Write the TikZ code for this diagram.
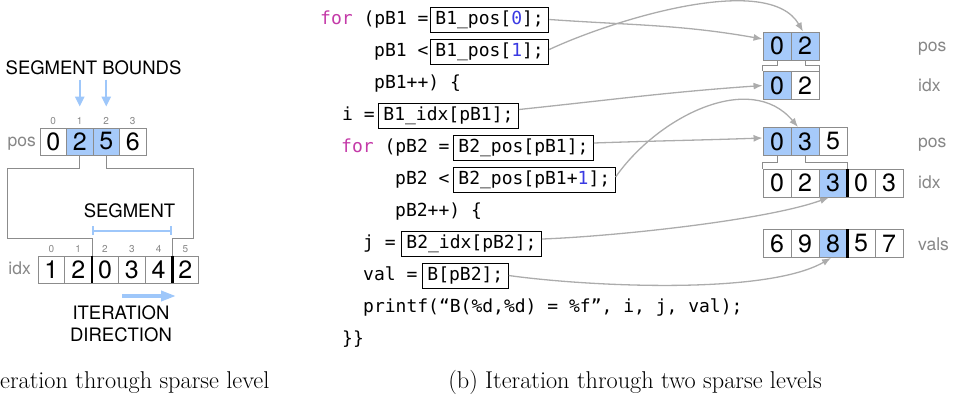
\documentclass[tikz,border=0pt]{standalone}
\usepackage{fontspec}
\usepackage{tikz}
\setsansfont{TeX Gyre Heros}
\newfontfamily\codefont{DejaVu Sans Mono}
\usetikzlibrary{arrows.meta,calc}
\definecolor{cell_blue}{RGB}{166, 202, 250}
\definecolor{cell_gray}{RGB}{140, 140, 140}
\definecolor{ptr_gray}{RGB}{172, 172, 172}
\definecolor{lbl_gray}{RGB}{135, 135, 135}
\definecolor{seg_blue}{RGB}{158, 199, 250}
\definecolor{kw_mag}{RGB}{196, 58, 168}
\definecolor{lit_blue}{RGB}{58, 58, 226}
\tikzstyle{lc}=[rectangle,draw=cell_gray,line width=0.9pt,inner sep=0pt,
  minimum width=26.6pt,minimum height=27pt,font=\sffamily\fontsize{25}{25}\selectfont]
\tikzstyle{lb}=[lc,fill=cell_blue]
\tikzstyle{rc}=[lc,minimum width=28pt,minimum height=28pt]
\tikzstyle{rb}=[rc,fill=cell_blue]
\tikzstyle{num}=[inner sep=0pt,text=lbl_gray,font=\sffamily\fontsize{10}{10}\selectfont]
\tikzstyle{lbl}=[inner sep=0pt,text=lbl_gray,font=\sffamily\fontsize{17.5}{17.5}\selectfont]
\tikzstyle{txt}=[inner sep=0pt,align=center,font=\sffamily\fontsize{18.5}{22}\selectfont]
\tikzstyle{code}=[anchor=west,inner sep=0pt,text height=13pt,text depth=4pt,
  font=\codefont\fontsize{18}{22}\selectfont]
\tikzstyle{codebox}=[code,draw=black,line width=0.9pt,inner xsep=5pt,inner ysep=4pt]
\tikzstyle{capt}=[inner sep=0pt,anchor=base,font=\fontsize{24.3}{24.3}\selectfont]
\tikzstyle{ptr}=[draw=ptr_gray,line width=1.3pt,-{Latex[length=9pt,width=7pt]}]
\tikzstyle{frm}=[draw=cell_gray,line width=0.9pt]
\tikzstyle{sepline}=[draw=black,line width=2.6pt]
\tikzstyle{blu}=[draw=seg_blue,line width=2.4pt,-{Triangle[length=10pt,width=9pt]}]
\tikzstyle{itdir}=[draw=seg_blue,line width=3.6pt,-{Triangle[length=15pt,width=10pt]}]
\tikzstyle{segbar}=[draw=seg_blue,line width=2pt,{Bar[width=9pt]}-{Bar[width=9pt]}]
\tikzstyle{none}=[]
\begin{document}
\begin{tikzpicture}[x=1pt, y=-1pt]
		\useasboundingbox (0, 0) rectangle (957, 399);
		% (a) one sparse level
		\node [style=lc] (0) at (53.25, 141.5) {0};
		\node [style=lb] (1) at (79.75, 141.5) {2};
		\node [style=lb] (2) at (106.25, 141.5) {5};
		\node [style=lc] (3) at (132.75, 141.5) {6};
		\node [style=lc] (4) at (51.4, 269.5) {1};
		\node [style=lc] (5) at (78.2, 269.5) {2};
		\node [style=lc] (6) at (105, 269.5) {0};
		\node [style=lc] (7) at (131.8, 269.5) {3};
		\node [style=lc] (8) at (158.6, 269.5) {4};
		\node [style=lc] (9) at (185.4, 269.5) {2};
		\node [style=num] (10) at (53.25, 121) {0};
		\node [style=num] (11) at (79.75, 121) {1};
		\node [style=num] (12) at (106.25, 121) {2};
		\node [style=num] (13) at (132.75, 121) {3};
		\node [style=num] (14) at (51.4, 249) {0};
		\node [style=num] (15) at (78.2, 249) {1};
		\node [style=num] (16) at (105, 249) {2};
		\node [style=num] (17) at (131.8, 249) {3};
		\node [style=num] (18) at (158.6, 249) {4};
		\node [style=num] (19) at (185.4, 249) {5};
		\node [style=lbl, anchor=base east] (20) at (36, 146.5) {pos};
		\node [style=lbl, anchor=base east] (21) at (31, 274.5) {idx};
		\node [style=txt] (22) at (93.5, 68) {SEGMENT BOUNDS};
		\node [style=txt] (23) at (129.5, 211) {SEGMENT};
		\node [style=txt] (24) at (121, 324) {ITERATION\\DIRECTION};
		\node [style=capt, anchor=base west] (25) at (0, 388) {eration through sparse level};
		\coordinate (26) at (7, 168);
		\coordinate (27) at (7, 238);
		\coordinate (28) at (193, 168);
		\coordinate (29) at (193, 238);
		\coordinate (30) at (122, 296);
		\coordinate (31) at (176, 296);
		% (b) two sparse levels: code
		\node [style=code] (32) at (320, 19.5) {\textcolor{kw_mag}{for} (pB1 =};
		\node [style=code] (33) at (374, 51.5) {pB1 <};
		\node [style=code] (34) at (374, 83.5) {pB1++) \{};
		\node [style=code] (35) at (342, 115.5) {i =};
		\node [style=code] (36) at (341, 147.5) {\textcolor{kw_mag}{for} (pB2 =};
		\node [style=code] (37) at (395, 179.5) {pB2 <};
		\node [style=code] (38) at (395, 211.5) {pB2++) \{};
		\node [style=code] (39) at (363, 243.5) {j =};
		\node [style=code] (40) at (363, 275.5) {val =};
		\node [style=code] (41) at (363, 307.5) {printf(“B(\%d,\%d) = \%f”, i, j, val);};
		\node [style=code] (42) at (342, 339.5) {\}\}};
		\node [style=codebox] (43) at (430, 19.5) {B1\_pos[\textcolor{lit_blue}{0}];};
		\node [style=codebox] (44) at (430, 51.5) {B1\_pos[\textcolor{lit_blue}{1}];};
		\node [style=codebox] (45) at (378, 115.5) {B1\_idx[pB1];};
		\node [style=codebox] (46) at (453, 147.5) {B2\_pos[pB1];};
		\node [style=codebox] (47) at (453, 179.5) {B2\_pos[pB1+\textcolor{lit_blue}{1}];};
		\node [style=codebox] (48) at (401, 243.5) {B2\_idx[pB2];};
		\node [style=codebox] (49) at (422, 275.5) {B[pB2];};
		% (b) two sparse levels: arrays
		\node [style=rb] (50) at (777, 46) {0};
		\node [style=rb] (51) at (805, 46) {2};
		\node [style=rb] (52) at (777, 85.5) {0};
		\node [style=rc] (53) at (805, 85.5) {2};
		\node [style=rb] (54) at (777, 141.5) {0};
		\node [style=rb] (55) at (805, 141.5) {3};
		\node [style=rc] (56) at (833, 141.5) {5};
		\node [style=rc] (57) at (777, 183) {0};
		\node [style=rc] (58) at (805, 183) {2};
		\node [style=rb] (59) at (833, 183) {3};
		\node [style=rc] (60) at (861, 183) {0};
		\node [style=rc] (61) at (889, 183) {3};
		\node [style=rc] (62) at (777, 243.5) {6};
		\node [style=rc] (63) at (805, 243.5) {9};
		\node [style=rb] (64) at (833, 243.5) {8};
		\node [style=rc] (65) at (861, 243.5) {5};
		\node [style=rc] (66) at (889, 243.5) {7};
		\node [style=lbl, anchor=base west] (67) at (918, 51.5) {pos};
		\node [style=lbl, anchor=base west] (68) at (918, 91) {idx};
		\node [style=lbl, anchor=base west] (69) at (918, 147) {pos};
		\node [style=lbl, anchor=base west] (70) at (918, 188.5) {idx};
		\node [style=lbl, anchor=base west] (71) at (918, 250) {vals};
		\node [style=capt] (72) at (635, 388) {(b) Iteration through two sparse levels};
		% segments and bounds
		\draw [style=sepline] (5.north east) to (5.south east);
		\draw [style=sepline] (8.north east) to (8.south east);
		\draw [style=frm] (1.south) |- (26) -- (27) -| (5.north east);
		\draw [style=frm] (2.south) |- (28) -- (29) -| (8.north east);
		\draw [style=blu] ([yshift=48pt]1.north) to ([yshift=21pt]1.north);
		\draw [style=blu] ([yshift=48pt]2.north) to ([yshift=21pt]2.north);
		\draw [style=segbar] ([yshift=25pt]5.north east) to ([yshift=25pt]8.north east);
		\draw [style=itdir] (30) to (31);
		\draw [style=frm] (50.south) -- ++(0, 5) -| (52.north west);
		\draw [style=frm] (51.south) -- ++(0, 5) -| (53.north east);
		\draw [style=frm] (54.south) -- ++(0, 6) -| (57.north west);
		\draw [style=frm] (55.south) -- ++(0, 6) -| (59.north east);
		\draw [style=sepline] (59.north east) to (59.south east);
		\draw [style=sepline] (64.north east) to (64.south east);
		% pointers from code to arrays
		\draw [style=ptr] (43.east) to [out=-4, in=170] ([yshift=7pt]50.west);
		\draw [style=ptr] ([yshift=2pt]44.east) to [out=25, in=120, looseness=0.7] ([xshift=-2pt]51.north);
		\draw [style=ptr] ([yshift=6pt]45.east) to [out=6, in=184] (52.west);
		\draw [style=ptr] ([yshift=4.5pt]46.east) to [out=2, in=182] ([yshift=3.5pt]54.west);
		\draw [style=ptr] ([yshift=2.5pt]47.east) to [out=55, in=130] ([xshift=-7pt]55.north);
		\draw [style=ptr] ([yshift=4.5pt]48.east) to [out=2, in=-160, looseness=0.6] ([xshift=-4pt]59.south);
		\draw [style=ptr] (49.east) to [out=-8, in=-150, looseness=0.6] ([xshift=-2pt]64.south);
\end{tikzpicture}
\end{document}
